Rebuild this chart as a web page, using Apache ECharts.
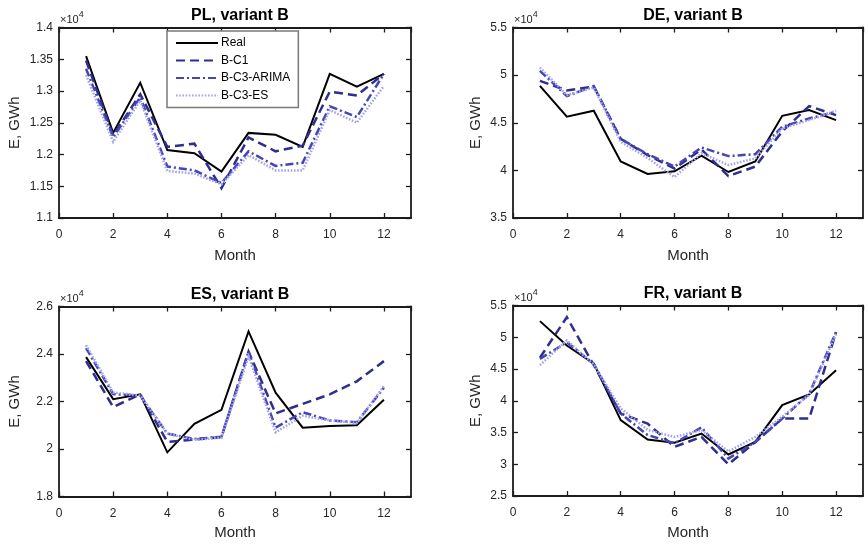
<!DOCTYPE html>
<html>
<head>
<meta charset="utf-8">
<script src="https://cdn.jsdelivr.net/npm/echarts@6/dist/echarts.min.js"></script>
<style>
  html, body { margin: 0; padding: 0; background: #ffffff; }
  #chart { width: 868px; height: 547px; }
</style>
</head>
<body>
<div id="chart"></div>
<script>
// Monthly electricity demand (GWh), real values and three forecast variants
const months = [1, 2, 3, 4, 5, 6, 7, 8, 9, 10, 11, 12];
const seriesNames = ['Real', 'B-C1', 'B-C3-ARIMA', 'B-C3-ES'];

const plReal  = [13550, 12340, 13130, 12070, 12020, 11730, 12340, 12310, 12120, 13270, 13070, 13270];
const plC1    = [13480, 12300, 12950, 12120, 12170, 11470, 12270, 12050, 12140, 12990, 12930, 13270];
const plArima = [13350, 12270, 12900, 11810, 11750, 11550, 12050, 11820, 11870, 12760, 12590, 13270];
const plEs    = [13250, 12200, 12850, 11740, 11700, 11530, 11990, 11750, 11750, 12700, 12500, 13080];

const deReal  = [48880, 45630, 46260, 40940, 39620, 39900, 41540, 39830, 40940, 45730, 46330, 45280];
const deC1    = [49400, 48400, 48800, 43300, 41600, 40200, 42200, 39400, 40400, 44100, 46750, 45800];
const deArima = [50450, 47800, 48850, 43300, 41700, 40400, 42400, 41500, 41700, 44580, 45450, 46150];
const deEs    = [50800, 47900, 48700, 43000, 41300, 39300, 41800, 40560, 41260, 44400, 45280, 46260];

const esReal  = [23870, 22100, 22300, 19860, 21060, 21650, 24950, 22370, 20900, 20970, 21000, 22070];
const esC1    = [23700, 21770, 22300, 20300, 20400, 20500, 24100, 21500, 21900, 22300, 22850, 23700];
const esArima = [24250, 22310, 22250, 20650, 20420, 20520, 24100, 20900, 21550, 21200, 21130, 22580];
const esEs    = [24370, 22380, 22250, 20650, 20380, 20480, 23900, 20700, 21400, 21200, 21100, 22650];

const frReal  = [52540, 48700, 45840, 36940, 33900, 33380, 34840, 31540, 33530, 39300, 41000, 44790];
const frC1    = [46780, 53170, 45600, 38000, 36400, 32750, 34300, 30000, 33500, 37200, 37200, 50800];
const frArima = [46600, 49200, 45800, 38000, 34600, 33300, 35800, 30900, 33500, 37200, 41100, 50800];
const frEs    = [45600, 49500, 45700, 38800, 35400, 34300, 35400, 32000, 34300, 37500, 40900, 50500];

// y-axis ranges [min, max, step] in GWh; x-axis range [min, max, step] in months
const plRange = [11000, 14000, 500];
const deRange = [35000, 55000, 5000];
const esRange = [18000, 26000, 2000];
const frRange = [25000, 55000, 5000];
const monthRange = [0, 13, 2];

const panels = [
  { title: 'PL, variant B', range: plRange, data: [plReal, plC1, plArima, plEs] },
  { title: 'DE, variant B', range: deRange, data: [deReal, deC1, deArima, deEs] },
  { title: 'ES, variant B', range: esRange, data: [esReal, esC1, esArima, esEs] },
  { title: 'FR, variant B', range: frRange, data: [frReal, frC1, frArima, frEs] }
];

// plot-area boxes and axis-title offsets
const boxes = [
  { left: 59,  top: 27.5,  width: 352, height: 190.5, yGap: 37, xGap: 30 },
  { left: 513, top: 27.5,  width: 350, height: 190.5, yGap: 30, xGap: 30 },
  { left: 59,  top: 306.5, width: 352, height: 190,   yGap: 37, xGap: 29 },
  { left: 513, top: 305.5, width: 350, height: 190.5, yGap: 30, xGap: 29 }
];

const FONT = '"Liberation Sans", Arial, Helvetica, sans-serif';
const INK = '#262626';
const FRAME = '#1c1c1c';

const styles = [
  { color: '#000000', width: 2,   type: 'solid' },
  { color: '#2e2e8e', width: 2.5, type: [9, 5] },
  { color: '#4545b5', width: 2.5, type: [8, 3, 2, 3] },
  { color: '#a3a3f0', width: 2.5, type: [1.6, 1.6] }
];

const grid = [], xAxis = [], yAxis = [], series = [], title = [], graphic = [];

panels.forEach((p, i) => {
  const b = boxes[i];
  grid.push({ left: b.left, top: b.top, width: b.width, height: b.height, containLabel: false });

  const frameLine = { show: true, onZero: false, lineStyle: { color: FRAME, width: 1.8 } };
  const tick = { show: true, inside: true, length: 5, lineStyle: { color: FRAME, width: 1.3 } };

  // bottom and top month axes
  xAxis.push({
    gridIndex: i, type: 'value', position: 'bottom',
    min: monthRange[0], max: monthRange[1], interval: monthRange[2],
    axisLine: frameLine, axisTick: tick, splitLine: { show: false },
    axisLabel: { color: INK, fontFamily: FONT, fontSize: 12, margin: 11, showMaxLabel: false },
    name: 'Month', nameLocation: 'middle', nameGap: b.xGap,
    nameTextStyle: { color: INK, fontFamily: FONT, fontSize: 15 }
  });
  xAxis.push({
    gridIndex: i, type: 'value', position: 'top',
    min: monthRange[0], max: monthRange[1], interval: monthRange[2],
    axisLine: frameLine, axisTick: tick, splitLine: { show: false },
    axisLabel: { show: false }
  });

  // left and right energy axes
  yAxis.push({
    gridIndex: i, type: 'value', position: 'left',
    min: p.range[0], max: p.range[1], interval: p.range[2],
    axisLine: frameLine, axisTick: tick, splitLine: { show: false },
    axisLabel: {
      color: INK, fontFamily: FONT, fontSize: 12, margin: 6,
      formatter: v => String(+(v / 1e4).toFixed(2))
    },
    name: 'E, GWh', nameLocation: 'middle', nameGap: b.yGap,
    nameTextStyle: { color: INK, fontFamily: FONT, fontSize: 15 }
  });
  yAxis.push({
    gridIndex: i, type: 'value', position: 'right',
    min: p.range[0], max: p.range[1], interval: p.range[2],
    axisLine: frameLine, axisTick: tick, splitLine: { show: false },
    axisLabel: { show: false }
  });

  title.push({
    text: p.title,
    left: b.left + b.width / 2, top: b.top - 25, textAlign: 'center',
    textStyle: { color: '#000', fontFamily: FONT, fontSize: 16, fontWeight: 'bold' }
  });

  // exponent marker above each y axis
  graphic.push({
    type: 'text', left: b.left + 1, top: b.top - 17, z: 10,
    style: {
      text: '{m|×10}{s|4}',
      rich: {
        m: { fontFamily: FONT, fontSize: 11, fill: INK, padding: [4, 0, 0, 0] },
        s: { fontFamily: FONT, fontSize: 9, fill: INK, verticalAlign: 'top' }
      }
    }
  });

  p.data.forEach((vals, k) => {
    const st = styles[k];
    series.push({
      name: seriesNames[k], type: 'line',
      xAxisIndex: 2 * i, yAxisIndex: 2 * i,
      data: months.map((m, j) => [m, vals[j]]),
      symbol: 'none', smooth: false,
      lineStyle: { color: st.color, width: st.width, type: st.type, cap: 'butt', join: 'miter' },
      itemStyle: { color: st.color },
      emphasis: { disabled: true },
      z: 2 + k
    });
  });
});

const chart = echarts.init(document.getElementById('chart'), null, { renderer: 'canvas' });
chart.setOption({
  animation: false,
  backgroundColor: '#ffffff',
  textStyle: { fontFamily: FONT },
  title: title,
  grid: grid,
  xAxis: xAxis,
  yAxis: yAxis,
  legend: {
    data: seriesNames,
    orient: 'vertical',
    left: 167, top: 31,
    itemWidth: 42, itemHeight: 12, itemGap: 5.5,
    padding: [6, 8, 6, 8],
    backgroundColor: '#ffffff',
    borderColor: '#7a7a7a', borderWidth: 1.5,
    itemStyle: { opacity: 0 },
    textStyle: { color: '#000', fontFamily: FONT, fontSize: 12, padding: [0, 0, 0, -2] },
    selectedMode: false
  },
  graphic: graphic,
  series: series
});
</script>
</body>
</html>
